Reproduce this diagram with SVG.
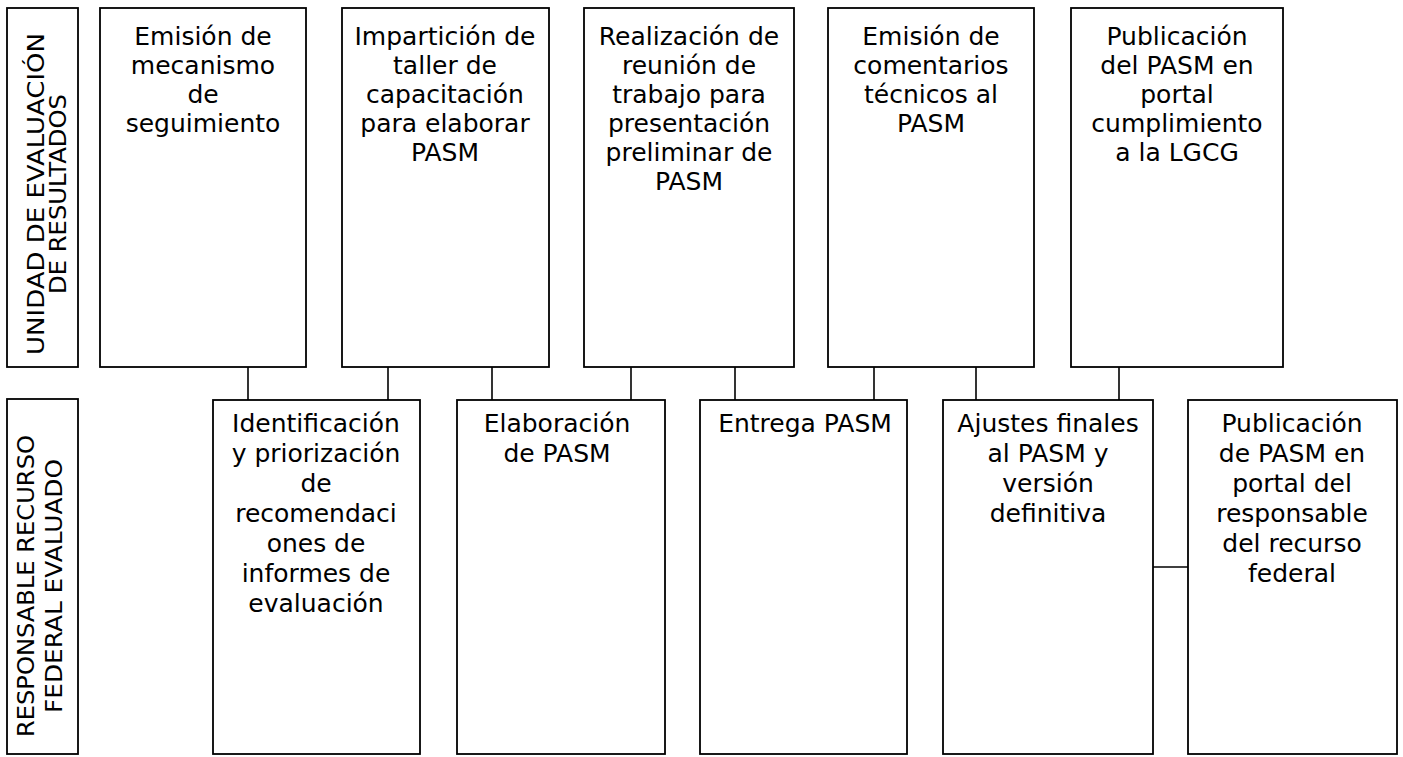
<svg xmlns="http://www.w3.org/2000/svg" width="1403" height="757" viewBox="0 0 1403 757">
<style>
rect{fill:#fff;stroke:#000;stroke-width:1.8}
line{stroke:#000;stroke-width:1.6}
text{font-family:"DejaVu Sans","Open Sans",sans-serif;font-size:25px;fill:#000;text-anchor:middle}
.lane text{font-size:23px}
</style>
<rect x="0" y="0" width="1403" height="757" style="stroke:none"/>
<g id="connectors">
<line x1="248" y1="367" x2="248" y2="400"/>
<line x1="388" y1="367" x2="388" y2="400"/>
<line x1="492" y1="367" x2="492" y2="400"/>
<line x1="631" y1="367" x2="631" y2="400"/>
<line x1="735" y1="367" x2="735" y2="400"/>
<line x1="874" y1="367" x2="874" y2="400"/>
<line x1="976" y1="367" x2="976" y2="400"/>
<line x1="1119" y1="367" x2="1119" y2="400"/>
<line x1="1153" y1="567" x2="1188" y2="567"/>
</g>
<g id="lane-uer" class="lane">
<rect x="7" y="8" width="71" height="359"/>
<g transform="translate(0,194) rotate(-90)">
<text x="0" y="44" textLength="322" lengthAdjust="spacingAndGlyphs">UNIDAD DE EVALUACIÓN</text>
<text x="0" y="66" textLength="200" lengthAdjust="spacingAndGlyphs">DE RESULTADOS</text>
</g>
</g>
<g id="lane-rrfe" class="lane">
<rect x="7" y="399" width="71" height="355"/>
<g transform="translate(0,586) rotate(-90)">
<text x="0" y="34" textLength="302" lengthAdjust="spacingAndGlyphs">RESPONSABLE RECURSO</text>
<text x="0" y="62" textLength="254" lengthAdjust="spacingAndGlyphs">FEDERAL EVALUADO</text>
</g>
</g>
<g id="t1">
<rect x="100" y="8" width="206" height="359"/>
<text x="203" y="45">Emisión de</text><text x="203" y="74">mecanismo</text><text x="203" y="103">de</text><text x="203" y="132">seguimiento</text>
</g>
<g id="t2">
<rect x="342" y="8" width="207" height="359"/>
<text x="445" y="45">Impartición de</text><text x="445" y="74">taller de</text><text x="445" y="103">capacitación</text><text x="445" y="132">para elaborar</text><text x="445" y="161">PASM</text>
</g>
<g id="t3">
<rect x="584" y="8" width="210" height="359"/>
<text x="689" y="45">Realización de</text><text x="689" y="74">reunión de</text><text x="689" y="103">trabajo para</text><text x="689" y="132">presentación</text><text x="689" y="161">preliminar de</text><text x="689" y="190">PASM</text>
</g>
<g id="t4">
<rect x="828" y="8" width="206" height="359"/>
<text x="931" y="45">Emisión de</text><text x="931" y="74">comentarios</text><text x="931" y="103">técnicos al</text><text x="931" y="132">PASM</text>
</g>
<g id="t5">
<rect x="1071" y="8" width="212" height="359"/>
<text x="1177" y="45">Publicación</text><text x="1177" y="74">del PASM en</text><text x="1177" y="103">portal</text><text x="1177" y="132">cumplimiento</text><text x="1177" y="161">a la LGCG</text>
</g>
<g id="b1">
<rect x="213" y="400" width="207" height="354"/>
<text x="316" y="432">Identificación</text><text x="316" y="462">y priorización</text><text x="316" y="492">de</text><text x="316" y="522">recomendaci</text><text x="316" y="552">ones de</text><text x="316" y="582">informes de</text><text x="316" y="612">evaluación</text>
</g>
<g id="b2">
<rect x="457" y="400" width="208" height="354"/>
<text x="557" y="432">Elaboración</text><text x="557" y="462">de PASM</text>
</g>
<g id="b3">
<rect x="700" y="400" width="207" height="354"/>
<text x="805" y="432">Entrega PASM</text>
</g>
<g id="b4">
<rect x="943" y="400" width="210" height="354"/>
<text x="1048" y="432">Ajustes finales</text><text x="1048" y="462">al PASM y</text><text x="1048" y="492">versión</text><text x="1048" y="522">definitiva</text>
</g>
<g id="b5">
<rect x="1188" y="400" width="209" height="354"/>
<text x="1292" y="432">Publicación</text><text x="1292" y="462">de PASM en</text><text x="1292" y="492">portal del</text><text x="1292" y="522">responsable</text><text x="1292" y="552">del recurso</text><text x="1292" y="582">federal</text>
</g>
</svg>
